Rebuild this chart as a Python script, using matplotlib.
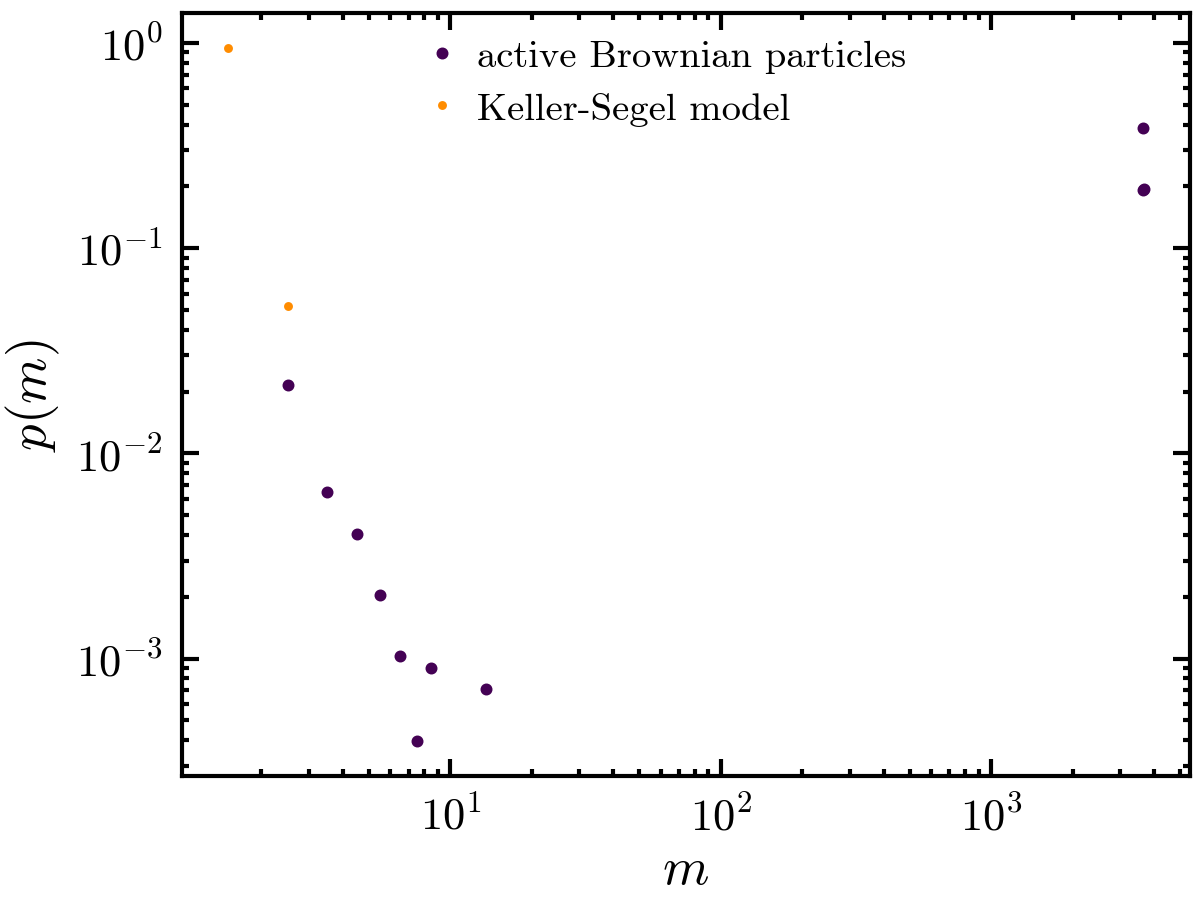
import matplotlib
matplotlib.use("Agg")
import matplotlib.pyplot as plt

plt.rcParams['font.family'] = 'serif'
plt.rcParams['font.serif'] = ['cmr10']
plt.rcParams['mathtext.fontset'] = 'cm'
plt.rcParams['axes.formatter.use_mathtext'] = True
plt.rcParams['axes.unicode_minus'] = True

# cluster size distribution
abp_m = [2.5, 3.5, 4.5, 5.5, 6.5, 7.5, 8.5, 13.5, 3650, 3640, 3662]
abp_p = [0.0215, 0.00647, 0.00403, 0.00203, 0.00103, 0.000397, 0.000899,
         0.000708, 0.385, 0.192, 0.194]

ks_m = [1.5, 2.5]
ks_p = [0.948, 0.052]

fig = plt.figure(figsize=(6.02, 4.52), dpi=200)
ax = fig.add_axes([0.151, 0.141, 0.837, 0.8435])

ax.plot(abp_m, abp_p, 'o', color='#440154', markersize=3.3, linestyle='none',
        label='active Brownian particles')
ax.plot(ks_m, ks_p, 'o', color='#ff8c00', markersize=2.2, linestyle='none',
        label='Keller-Segel model')

ax.set_xscale('log')
ax.set_yscale('log')

ax.set_xlabel(r'$m$', fontsize=19, labelpad=3)
ax.set_ylabel(r'$p(m)$', fontsize=19, labelpad=5)

for s in ax.spines.values():
    s.set_linewidth(1.5)
ax.tick_params(which='both', direction='in', top=True, right=True,
               labelsize=16, width=1.5)
ax.tick_params(which='major', length=6, pad=7)
ax.tick_params(which='minor', length=2.6)

ax.legend(loc='upper left', bbox_to_anchor=(0.2236, 0.986), frameon=False,
          fontsize=13.9, handlelength=1.0, handletextpad=0.4,
          labelspacing=0.48, borderaxespad=0.0)

fig.savefig('out.png', dpi=200)
